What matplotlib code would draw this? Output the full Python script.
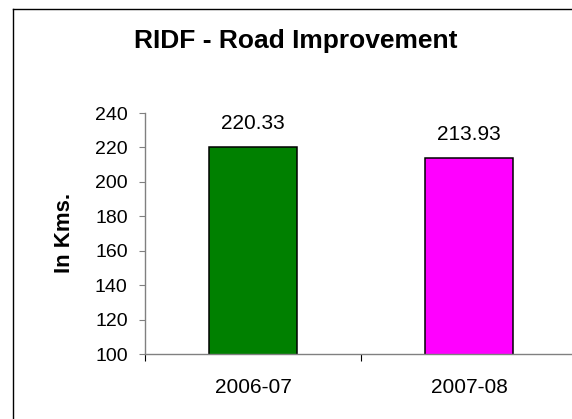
import matplotlib
matplotlib.use("Agg")
import matplotlib.pyplot as plt
from matplotlib.lines import Line2D

categories = ["2006-07", "2007-08"]
values = [220.33, 213.93]
colors = ["#008000", "#FF00FF"]
yticks = [100, 120, 140, 160, 180, 200, 220, 240]

plt.rcParams['font.family'] = ['Liberation Sans', 'DejaVu Sans']

W, H = 572, 419
fig = plt.figure(figsize=(W / 100, H / 100), dpi=100)

def fx(px):
    return px / W

def fy(py):
    return 1 - py / H

ax = fig.add_axes([fx(145), fy(354), fx(577 - 145), (354 - 113) / H])
x = list(range(len(categories)))
bars = ax.bar(x, values, width=0.41, color=colors, edgecolor="black", linewidth=1.1, zorder=3)
ax.set_ylim(100, 240)
ax.set_xlim(-0.5, len(categories) - 0.5)
ax.set_yticks(yticks)
ax.tick_params(axis='y', direction='out', length=4.5, width=0.8, color='#808080',
               labelsize=14, pad=8, labelcolor='black')
ax.set_xticks([i - 0.5 for i in range(len(categories) + 1)])
ax.set_xticklabels([])
ax.set_xticks(x, minor=True)
ax.set_xticklabels(categories, minor=True)
ax.tick_params(axis='x', which='major', direction='out', length=5, width=0.8, color='black')
ax.tick_params(axis='x', which='minor', length=0, labelsize=15, pad=17)
for s in ['top', 'right']:
    ax.spines[s].set_visible(False)
for s in ['left', 'bottom']:
    ax.spines[s].set_color('#808080')
    ax.spines[s].set_linewidth(1.0)
ax.spines['bottom'].set_zorder(4)

for i, v in enumerate(values):
    ax.annotate(f"{v:.2f}", (x[i], v), xytext=(0, 13), textcoords='offset points',
                ha='center', va='baseline', fontsize=15)

fig.text(fx(65), 1 - 233 / H, "In Kms.", rotation=90, ha='center', va='center',
         fontsize=16, fontweight='bold')

fig.text(fx(295.5), fy(48), "RIDF - Road Improvement", ha='center', va='baseline',
         fontsize=19, fontweight='bold')

# outer chart border (partially cropped)
fig.add_artist(Line2D([fx(13), fx(13)], [0, fy(9)], transform=fig.transFigure, color='black', lw=1.0))
fig.add_artist(Line2D([fx(13), 1], [fy(9), fy(9)], transform=fig.transFigure, color='black', lw=1.0))

fig.savefig("out.png", dpi=100)
